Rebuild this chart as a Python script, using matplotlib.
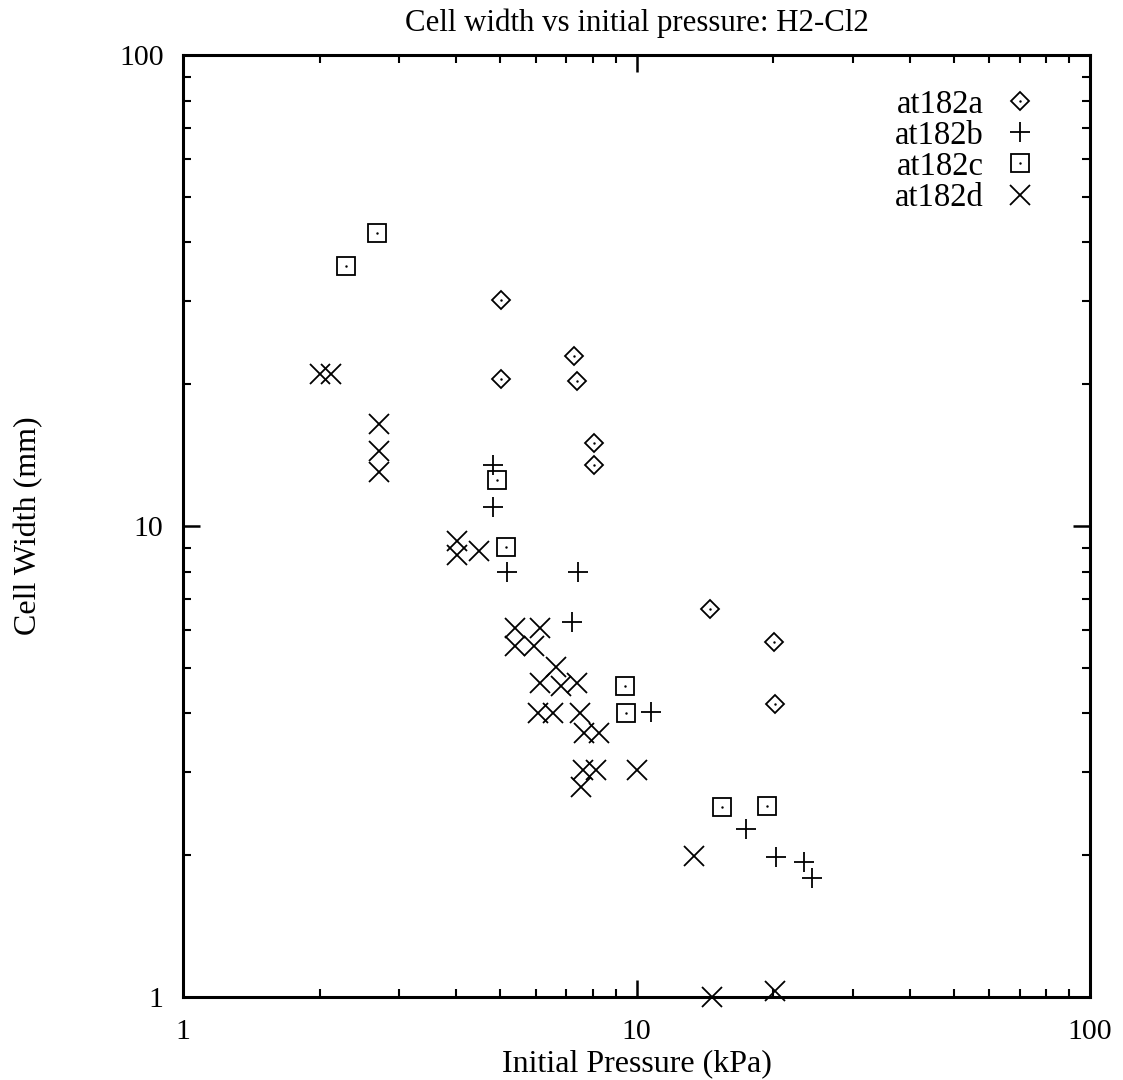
import numpy as np
import matplotlib
matplotlib.use("Agg")
from matplotlib import pyplot as plt
from matplotlib.legend_handler import HandlerTuple

plt.rcParams['font.family'] = ['Liberation Serif', 'DejaVu Serif']

# at182a (diamonds)
a_x = [5.03, 7.28, 5.03, 7.39, 8.06, 8.06, 14.5, 20.1, 20.2]
a_y = [30.2, 22.9, 20.5, 20.3, 15.0, 13.5, 6.66, 5.67, 4.19]

# at182b (plus)
b_x = [4.83, 4.83, 5.18, 7.42, 7.21, 10.76, 17.4, 20.3, 23.4, 24.4]
b_y = [13.5, 10.97, 7.98, 8.0, 6.25, 4.03, 2.27, 1.98, 1.93, 1.79]

# at182c (squares)
c_x = [2.68, 2.29, 4.92, 5.15, 9.43, 9.47, 15.4, 19.4]
c_y = [41.9, 35.6, 12.5, 9.03, 4.58, 4.01, 2.53, 2.54]

# at182d (crosses)
d_x = [2.00, 2.12, 2.71, 2.71, 2.70, 4.02, 4.02, 4.50,
       5.40, 6.13, 5.40, 5.94, 6.64, 6.13, 6.81, 7.39,
       6.06, 6.54, 7.51, 7.66, 8.26, 7.62, 8.14, 10.0, 7.55,
       13.4, 14.7, 20.2]
d_y = [21.0, 21.0, 16.5, 14.4, 13.0, 9.29, 8.68, 8.85,
       6.07, 6.07, 5.56, 5.56, 5.02, 4.64, 4.58, 4.64,
       4.01, 4.01, 4.01, 3.63, 3.63, 3.03, 3.03, 3.03, 2.79,
       1.99, 1.00, 1.03]

fig = plt.figure(figsize=(11.23, 10.8), dpi=100)
ax = fig.add_axes([0.163, 0.0769, 0.8077, 0.8722])

h1, = ax.plot(a_x, a_y, linestyle='none', marker='D', markersize=9,
              markerfacecolor='none', markeredgecolor='black', markeredgewidth=1.3)
h2, = ax.plot(b_x, b_y, linestyle='none', marker='+', markersize=15,
              color='black', markeredgewidth=1.3)
h3, = ax.plot(c_x, c_y, linestyle='none', marker='s', markersize=13,
              markerfacecolor='none', markeredgecolor='black', markeredgewidth=1.3)
h4, = ax.plot(d_x, d_y, linestyle='none', marker='x', markersize=15,
              color='black', markeredgewidth=1.3, clip_on=False)
# small centre dots like the gnuplot point types
dot1, = ax.plot(a_x, a_y, linestyle='none', marker='.', markersize=1.5, color='black')
dot3, = ax.plot(c_x, c_y, linestyle='none', marker='.', markersize=1.5, color='black')

ax.set_xscale('log')
ax.set_yscale('log')
ax.set_xlim(1, 100)
ax.set_ylim(1, 100)
ax.set_xticks([1, 10, 100])
ax.set_xticklabels(['1', '10', '100'])
ax.set_yticks([1, 10, 100])
ax.set_yticklabels(['1', '10', '100'])

for s in ax.spines.values():
    s.set_linewidth(2.2)
ax.tick_params(which='major', direction='in', length=12, width=1.8,
               top=True, right=True, labelsize=21.5, pad=14)
ax.tick_params(axis='x', which='major', pad=16)
ax.tick_params(which='minor', direction='in', length=6, width=1.5,
               top=True, right=True)

ax.set_title('Cell width vs initial pressure: H2-Cl2', fontsize=22.2, pad=17)
ax.set_xlabel('Initial Pressure (kPa)', fontsize=23)
ax.xaxis.set_label_coords(0.5, -0.056, transform=ax.transAxes)
ax.xaxis.label.set_va('top')
ax.set_ylabel('Cell Width (mm)', fontsize=23)
ax.yaxis.set_label_coords(-0.17, 0.5, transform=ax.transAxes)
ax.yaxis.label.set_va('center')

ax.legend([(h1, dot1), h2, (h3, dot3), h4],
          ['at182a', 'at182b', 'at182c', 'at182d'],
          handler_map={tuple: HandlerTuple(ndivide=1, pad=0)},
          loc='upper right', bbox_to_anchor=(0.973, 0.995), frameon=False,
          markerfirst=False, fontsize=23.5, handlelength=1.0,
          handletextpad=0.6, labelspacing=0.02, borderaxespad=0.5)

fig.savefig('out.png', dpi=100)
